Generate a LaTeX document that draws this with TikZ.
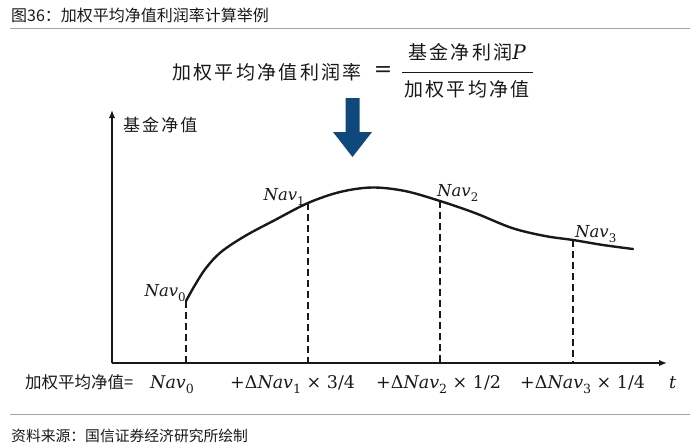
\documentclass[tikz,border=0pt]{standalone}
\usepackage{fontspec}
\usepackage{graphicx}
\newfontfamily\cjk{Noto Sans CJK SC}
\newfontfamily\cjkw[LetterSpace=12]{Noto Sans CJK SC}
\newfontfamily\mf{DejaVu Serif}
\newcommand\NV[1]{{\mf\itshape Nav}\raisebox{-0.3em}{\scalebox{0.72}{\mf #1}}}
\usetikzlibrary{arrows.meta}
\definecolor{arrowblue}{RGB}{14,72,125}
\definecolor{rulegray}{RGB}{165,165,165}
\definecolor{inkc}{RGB}{25,25,25}
\begin{document}
\begin{tikzpicture}[x=1pt,y=-1pt,
  every node/.style={text=inkc},
  ax/.style={draw=inkc,line width=1.6pt,-{Latex[length=8pt,width=6.5pt]}},
  curve/.style={draw=inkc,line width=2.4pt,line cap=round},
  guide/.style={draw=inkc,line width=1.5pt,dash pattern=on 6.5pt off 4.5pt},
  navlbl/.style={inner sep=0pt,font=\mf\fontsize{16.5}{20}\selectfont},
  rowlbl/.style={inner sep=0pt,anchor=base west,font=\mf\fontsize{17.5}{22}\selectfont},
  rule/.style={draw=rulegray,line width=1pt},
  cjkbig/.style={inner sep=0pt,font=\cjkw\fontsize{19}{22}\selectfont}]
\useasboundingbox (0,0) rectangle (700,447);

% header and footer
\node[inner sep=0pt,anchor=west,font=\cjk\fontsize{16}{19}\selectfont] (title) at (11,15) {图36：加权平均净值利润率计算举例};
\coordinate (rt1) at (10,28); \coordinate (rt2) at (690,28);
\draw[rule] (rt1) -- (rt2);
\coordinate (rb1) at (10,414); \coordinate (rb2) at (690,414);
\draw[rule] (rb1) -- (rb2);
\node[inner sep=0pt,anchor=west,font=\cjk\fontsize{14.8}{17}\selectfont] (source) at (11,436) {资料来源：国信证券经济研究所绘制};

% formula
\node[cjkbig] (lhs) at (267,72) {加权平均净值利润率};
\node[inner sep=0pt,font=\mf\fontsize{22}{24}\selectfont] (eq) at (383,72) {=};
\node[cjkbig] (num) at (467,52) {基金净利润{\mf\itshape\fontsize{20}{24}\selectfont P}};
\node[cjkbig] (den) at (467,89) {加权平均净值};
\coordinate (fb1) at (402,72); \coordinate (fb2) at (533,72);
\draw[draw=inkc,line width=1pt] (fb1) -- (fb2);

% blue arrow
\fill[arrowblue] (345.5,98) -- (359.5,98) -- (359.5,132) -- (372,132) -- (352.5,157) -- (333,132) -- (345.5,132) -- cycle;

% axes
\coordinate (O) at (112,363);
\coordinate (ytip) at (112,110);
\coordinate (xtip) at (667,363);
\draw[ax] (O) -- (ytip);
\draw[ax] (O) -- (xtip);
\node[inner sep=0pt,anchor=west,font=\cjkw\fontsize{17}{20}\selectfont] (ylab) at (123,125) {基金净值};

% curve
\draw[curve] plot[smooth,tension=0.55] coordinates {(186,301) (195,285) (206,268) (221,252) (245,236) (275,220) (308,203) (340,192) (372,187.5) (405,191) (440,201) (475,213) (512,228) (545,236) (573,240) (603,245) (633,249)};

% points and guides
\coordinate (n0) at (186,301); \coordinate (b0) at (186,363);
\coordinate (n1) at (308,203); \coordinate (b1) at (308,363);
\coordinate (n2) at (440,201); \coordinate (b2) at (440,363);
\coordinate (n3) at (573,240); \coordinate (b3) at (573,363);
\draw[guide] (n0) -- (b0);
\draw[guide] (n1) -- (b1);
\draw[guide] (n2) -- (b2);
\draw[guide] (n3) -- (b3);

\node[navlbl,anchor=east] (l0) at (186,293) {\NV{0}};
\node[navlbl,anchor=east] (l1) at (305,197) {\NV{1}};
\node[navlbl,anchor=west] (l2) at (437,193) {\NV{2}};
\node[navlbl,anchor=west] (l3) at (575,234) {\NV{3}};

% bottom row
\node[rowlbl,font=\cjk\fontsize{16.5}{20}\selectfont] (r0) at (25,388) {加权平均净值=};
\node[rowlbl] (r1) at (150,388) {\NV{0}};
\node[rowlbl] (r2) at (230,388) {+Δ\NV{1} × 3/4};
\node[rowlbl] (r3) at (376,388) {+Δ\NV{2} × 1/2};
\node[rowlbl] (r4) at (520,388) {+Δ\NV{3} × 1/4};
\node[rowlbl] (r5) at (669,388) {\itshape t};
\end{tikzpicture}
\end{document}
